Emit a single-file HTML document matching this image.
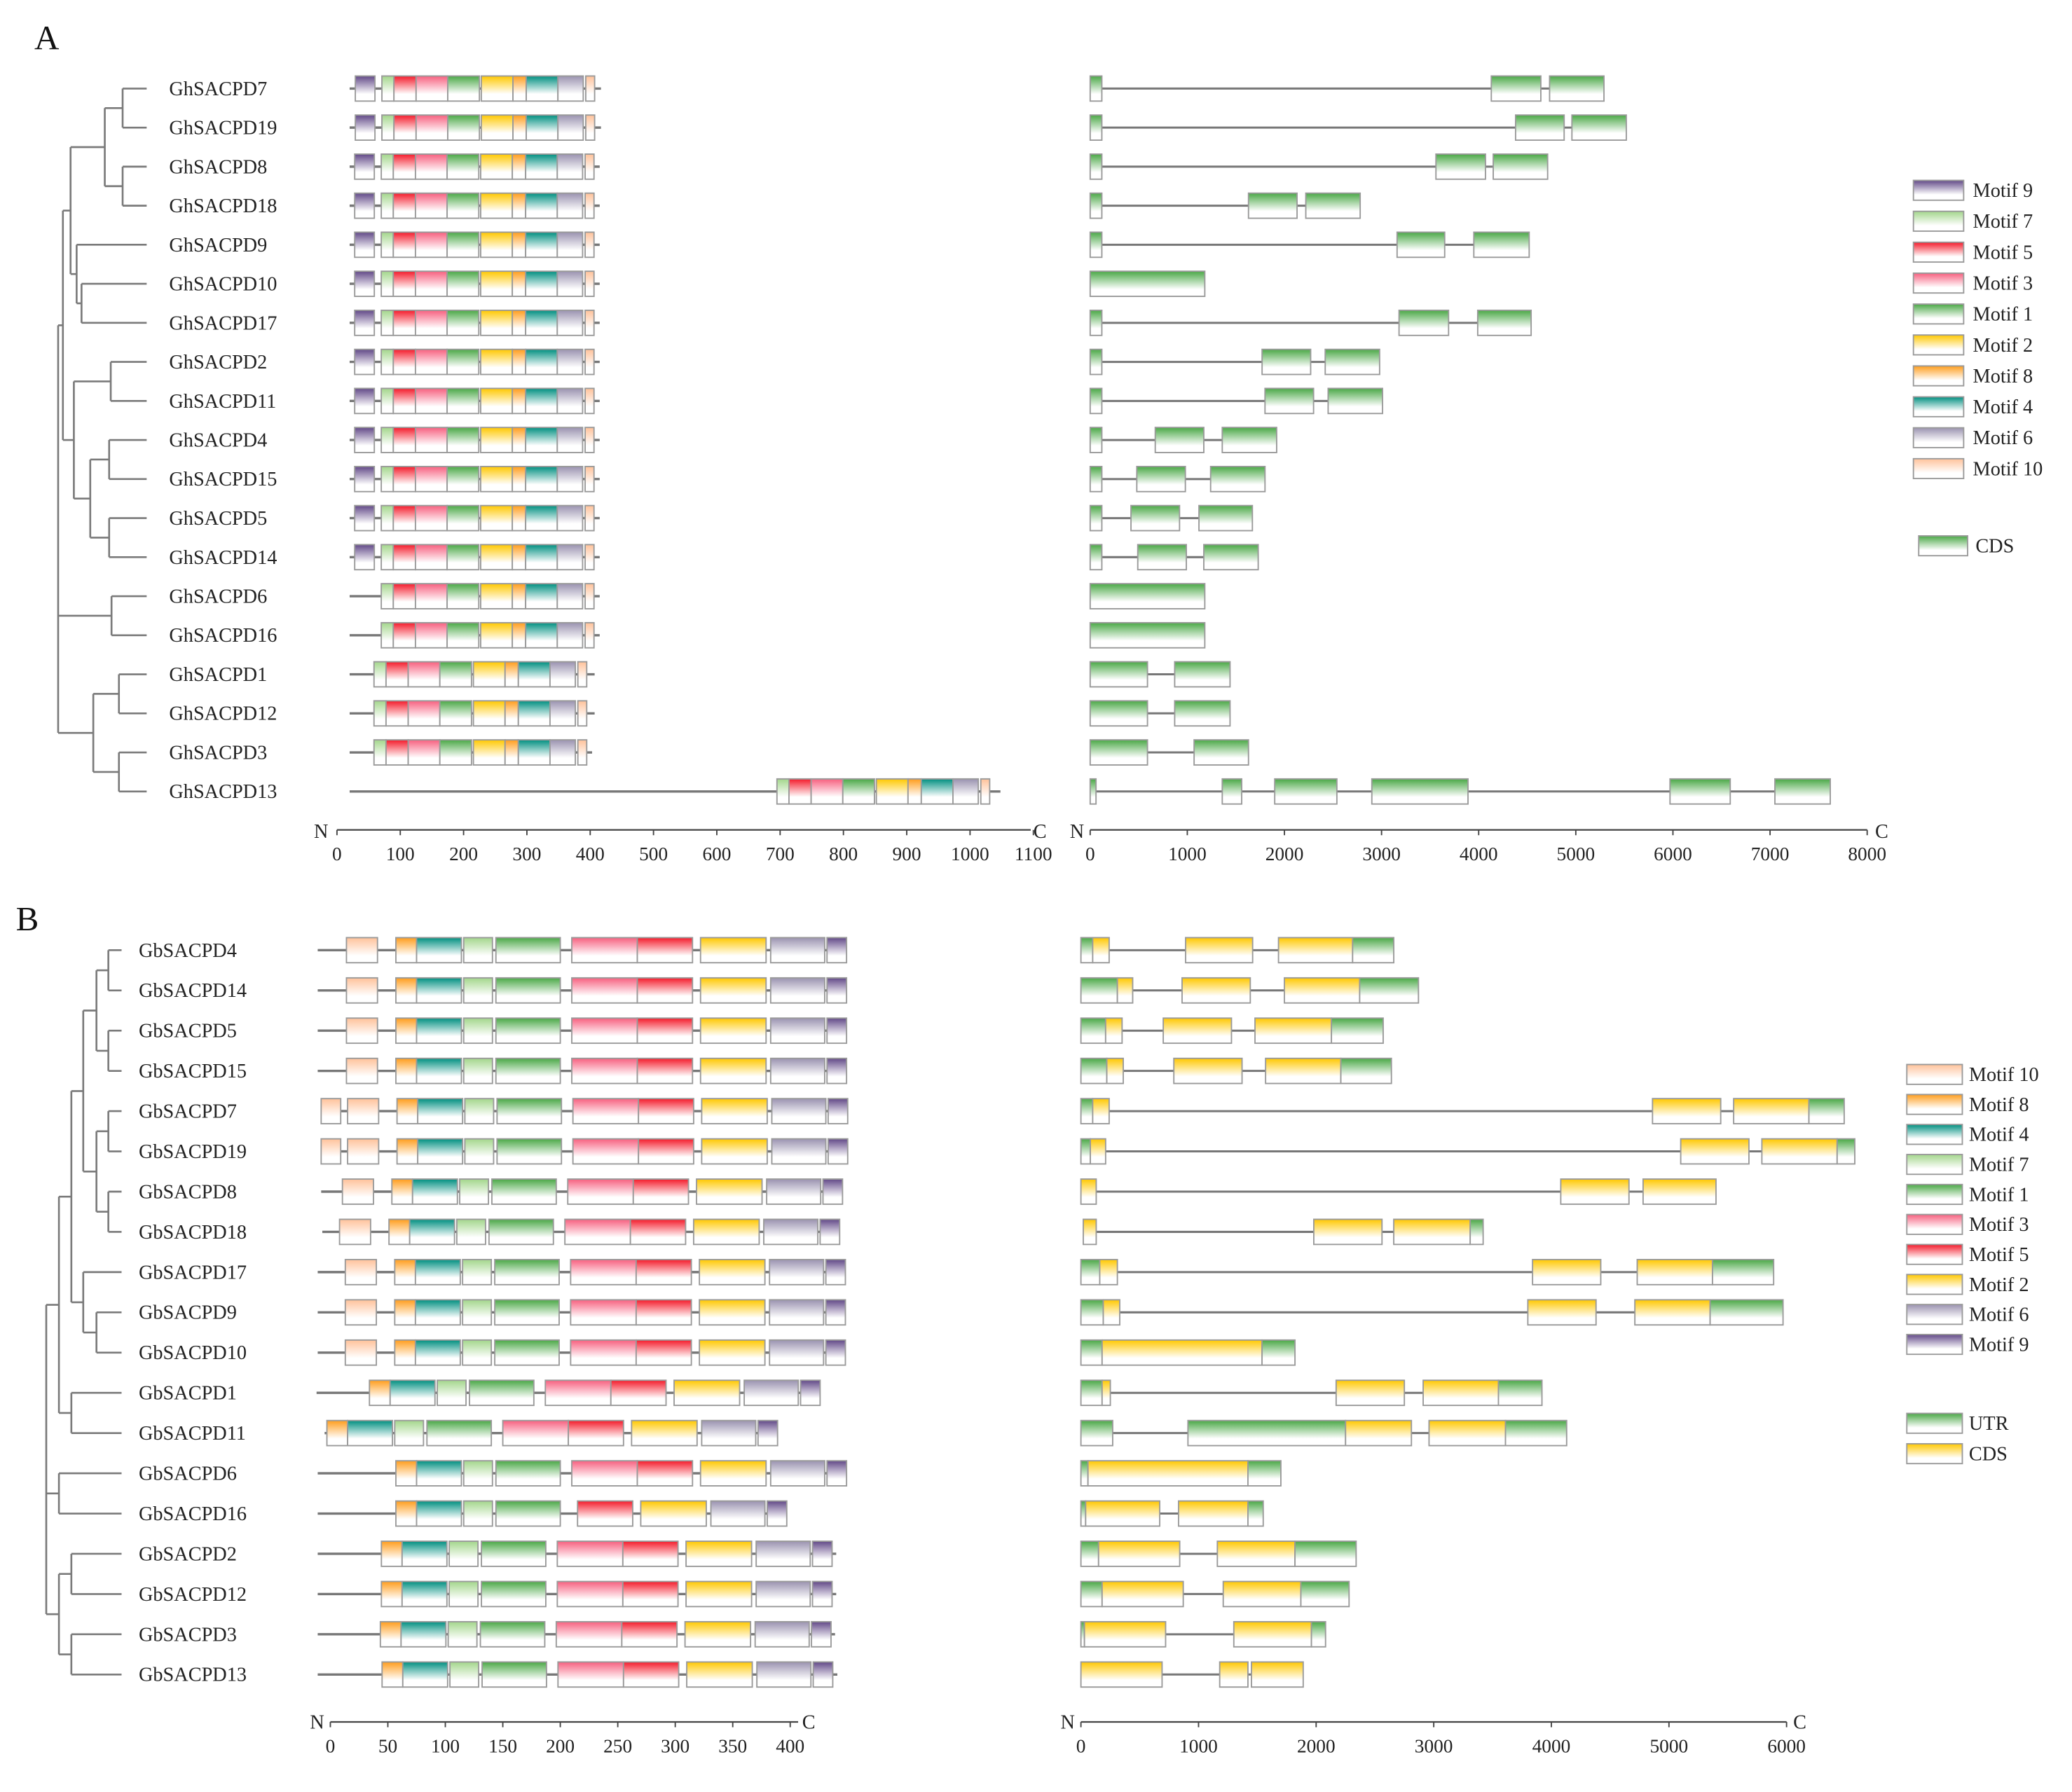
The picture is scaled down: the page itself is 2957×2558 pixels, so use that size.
<!DOCTYPE html>
<html><head><meta charset="utf-8">
<style>
html,body{margin:0;padding:0;background:#fff;}
svg{display:block;font-family:"Liberation Serif",serif;}
</style></head>
<body>
<svg id="fig" xmlns="http://www.w3.org/2000/svg" width="2957" height="2558" viewBox="0 0 1568 1356" preserveAspectRatio="none">
<defs id="defs"></defs>
<rect x="0" y="0" width="1568" height="1356" fill="#fff"/>
<text x="26" y="37" font-size="26" fill="#111">A</text>
<text x="12" y="704" font-size="26" fill="#111">B</text>
</svg>
<script>
// ---------------- DATA ----------------
const motifColors = {m1:'#4aa846',m2:'#ffc800',m3:'#f7607f',m4:'#008f80',m5:'#f41a2a',m6:'#9a92b0',m7:'#a3d68b',m8:'#ff9d1c',m9:'#614887',m10:'#ffc29a',cds:'#4aa846',utr:'#4aa846',cdsY:'#ffc800'};
const motifTplA = [['m9',29,60],['m7',71,90],['m5',90,125],['m3',125,175],['m1',175,225],['m2',228,278],['m8',278,299],['m4',299,349],['m6',349,389],['m10',393,407]];
const genesA = ['GhSACPD7','GhSACPD19','GhSACPD8','GhSACPD18','GhSACPD9','GhSACPD10','GhSACPD17','GhSACPD2','GhSACPD11','GhSACPD4','GhSACPD15','GhSACPD5','GhSACPD14','GhSACPD6','GhSACPD16','GhSACPD1','GhSACPD12','GhSACPD3','GhSACPD13'];
const protEndA = [417,417,415,415,415,415,415,415,415,415,415,415,415,415,415,407,407,403,1048];
const motifShiftA = [0,0,-1,-1,-1,-1,-1,-1,-1,-1,-1,-1,-1,-1,-1,-12.5,-12.5,-12.5,624];
const hasM9A = [1,1,1,1,1,1,1,1,1,1,1,1,1,0,0,0,0,0,0];
const exonsA = [
 [[0,120],[4130,4640],[4730,5290]],
 [[0,120],[4380,4880],[4960,5520]],
 [[0,120],[3560,4070],[4150,4710]],
 [[0,120],[1630,2130],[2220,2780]],
 [[0,120],[3160,3650],[3950,4520]],
 [[0,1180]],
 [[0,120],[3180,3690],[3990,4540]],
 [[0,120],[1770,2270],[2420,2980]],
 [[0,120],[1800,2300],[2450,3010]],
 [[0,120],[670,1170],[1360,1920]],
 [[0,120],[480,980],[1240,1800]],
 [[0,120],[420,920],[1120,1670]],
 [[0,120],[490,990],[1170,1730]],
 [[0,1180]],
 [[0,1180]],
 [[0,590],[870,1440]],
 [[0,590],[870,1440]],
 [[0,590],[1070,1630]],
 [[0,60],[1360,1560],[1900,2540],[2900,3890],[5970,6590],[7050,7620]]
];
const ticksMotifA = [0,100,200,300,400,500,600,700,800,900,1000,1100];
const ticksGeneA = [0,1000,2000,3000,4000,5000,6000,7000,8000];
const legendA = ['m9','m7','m5','m3','m1','m2','m8','m4','m6','m10'];
const legendLabelsA = ['Motif 9','Motif 7','Motif 5','Motif 3','Motif 1','Motif 2','Motif 8','Motif 4','Motif 6','Motif 10'];

const motifTplB = [['m10',14,41],['m8',57,75],['m4',75,114],['m7',116,141],['m1',144,200],['m3',210,267],['m5',267,315],['m2',322,379],['m6',383,430],['m9',432,449]];
const genesB = ['GbSACPD4','GbSACPD14','GbSACPD5','GbSACPD15','GbSACPD7','GbSACPD19','GbSACPD8','GbSACPD18','GbSACPD17','GbSACPD9','GbSACPD10','GbSACPD1','GbSACPD11','GbSACPD6','GbSACPD16','GbSACPD2','GbSACPD12','GbSACPD3','GbSACPD13'];
const protStartB = [-11,-11,-11,-11,-8,-8,-8,-7,-11,-11,-11,-12,-5,-11,-11,-11,-11,-11,-11];
const protEndB = [449,449,449,449,450,450,445,443,448,448,448,426,389,449,395,440,440,439,441];
const motifShiftB = [0,0,0,0,1,1,-3.5,-6,-1,-1,-1,-23,-60,0,0,-12.6,-12.6,-13.5,-12];
const omitB = [[],[],[],[],[],[],[],[],[],[],[],['m10'],['m10'],['m10'],['m10','m3'],['m10'],['m10'],['m10'],['m10']];
const extraB = [[],[],[],[],[['m10',-8,9]],[['m10',-8,9]],[],[],[],[],[],[],[],[],[],[],[],[],[]];
const lateShiftB = [0,0,0,0,0,0,0,0,0,0,0,0,0,0,-52,0,0,0,0];
const exonsB = [
 [[0,100,'u'],[100,240,'c'],[890,1460,'c'],[1680,2310,'c'],[2310,2660,'u']],
 [[0,310,'u'],[310,440,'c'],[860,1440,'c'],[1730,2370,'c'],[2370,2870,'u']],
 [[0,210,'u'],[210,350,'c'],[700,1280,'c'],[1480,2130,'c'],[2130,2570,'u']],
 [[0,220,'u'],[220,360,'c'],[790,1370,'c'],[1570,2210,'c'],[2210,2640,'u']],
 [[0,100,'u'],[100,240,'c'],[4860,5440,'c'],[5550,6190,'c'],[6190,6490,'u']],
 [[0,80,'u'],[80,210,'c'],[5100,5680,'c'],[5790,6430,'c'],[6430,6580,'u']],
 [[0,130,'c'],[4080,4660,'c'],[4780,5400,'c']],
 [[20,130,'c'],[1980,2560,'c'],[2660,3310,'c'],[3310,3420,'u']],
 [[0,160,'u'],[160,310,'c'],[3840,4420,'c'],[4730,5370,'c'],[5370,5890,'u']],
 [[0,190,'u'],[190,330,'c'],[3800,4380,'c'],[4710,5350,'c'],[5350,5970,'u']],
 [[0,180,'u'],[180,1540,'c'],[1540,1820,'u']],
 [[0,180,'u'],[180,250,'c'],[2170,2750,'c'],[2910,3550,'c'],[3550,3920,'u']],
 [[0,270,'u'],[910,2250,'u'],[2250,2810,'c'],[2960,3610,'c'],[3610,4130,'u']],
 [[0,60,'u'],[60,1420,'c'],[1420,1700,'u']],
 [[0,40,'u'],[40,670,'c'],[830,1420,'c'],[1420,1550,'u']],
 [[0,150,'u'],[150,840,'c'],[1160,1820,'c'],[1820,2340,'u']],
 [[0,180,'u'],[180,870,'c'],[1210,1870,'c'],[1870,2280,'u']],
 [[0,30,'u'],[30,720,'c'],[1300,1960,'c'],[1960,2080,'u']],
 [[0,690,'c'],[1180,1420,'c'],[1450,1890,'c']]
];
const ticksMotifB = [0,50,100,150,200,250,300,350,400];
const ticksGeneB = [0,1000,2000,3000,4000,5000,6000];
const legendB = ['m10','m8','m4','m7','m1','m3','m5','m2','m6','m9'];
const legendLabelsB = ['Motif 10','Motif 8','Motif 4','Motif 7','Motif 1','Motif 3','Motif 5','Motif 2','Motif 6','Motif 9'];

// ---------------- LAYOUT ----------------
const svg = document.getElementById('fig');
const defs = document.getElementById('defs');
const NS = 'http://www.w3.org/2000/svg';
function mk(tag, attrs, parent){const e=document.createElementNS(NS,tag);for(const k in attrs)e.setAttribute(k,attrs[k]);(parent||svg).appendChild(e);return e;}
for(const k in motifColors){
  const g=mk('linearGradient',{id:'g_'+k,x1:0,y1:0,x2:0,y2:1},defs);
  mk('stop',{offset:'0','stop-color':motifColors[k]},g);
  mk('stop',{offset:'0.72','stop-color':'#ffffff'},g);
  mk('stop',{offset:'1','stop-color':'#ffffff'},g);
}
const rowYA = i => 67 + i*29.55;
const rowYB = i => 719 + i*30.45;
const xMotifA = v => 255 + v*527/1100;
const xGeneA = v => 825 + v*588/8000;
const xMotifB = v => 250 + v*348/400;
const xGeneB = v => 818 + v*534/6000;
const BH = 19;
function box(x1,x2,y,key,name,h){
  const r=mk('rect',{x:x1,y:y-(h||BH)/2,width:Math.max(1,x2-x1),height:h||BH,fill:'url(#g_'+key+')',stroke:'#9a9a9a','stroke-width':1});
  
  
  return r;
}
function line(x1,y1,x2,y2,name,w,c){
  const l=mk('line',{x1,y1,x2,y2,stroke:c||'#777','stroke-width':w||1.6});
  
  
  return l;
}
function text(x,y,s,size,name,anchor){
  const t=mk('text',{x,y,'font-size':size,fill:'#222','text-anchor':anchor||'start'});
  t.textContent=s;
  
  
  return t;
}

genesA.forEach((g,i)=>{
  const y=rowYA(i);
  text(128,y+5,g,15,'gene-label-'+g);
  line(xMotifA(20),y,xMotifA(protEndA[i]),y,'protein-line-'+g,1.8);
  motifTplA.forEach(([m,s,e])=>{
    if(m==='m9'&&!hasM9A[i])return;
    box(xMotifA(s+motifShiftA[i]),xMotifA(e+motifShiftA[i]),y,m,'motif-'+m+'-'+g);
  });
  const ex=exonsA[i];
  line(xGeneA(ex[0][0]),y,xGeneA(ex[ex.length-1][1]),y,'intron-line-'+g,1.6);
  ex.forEach(([s,e],j)=>box(xGeneA(s),xGeneA(e),y,'cds','cds-'+g+'-'+j));
});
function axis(x0,x1,y,ticks,fx,prefix){
  line(x0,y,x1,y,prefix+'-axis-line',1.2,'#444');
  ticks.forEach(t=>{line(fx(t),y,fx(t),y+4,prefix+'-tick-'+t,1,'#444');text(fx(t),y+23,String(t),14.5,prefix+'-tick-label-'+t,'middle');});
}
axis(255,780,628,ticksMotifA,xMotifA,'motif-a');
text(243,634,'N',15,'motif-a-n-label','middle');text(787,634,'C',15,'motif-a-c-label','middle');
axis(825,1413,628,ticksGeneA,xGeneA,'gene-a');
text(815,634,'N',15,'gene-a-n-label','middle');text(1424,634,'C',15,'gene-a-c-label','middle');
legendA.forEach((m,i)=>{const y=144+i*23.4;box(1448,1486,y,m,'legend-a-swatch-'+m,15);text(1493,y+5,legendLabelsA[i],15,'legend-a-label-'+m);});
box(1452,1489,413,'cds','legend-a-swatch-cds',15);text(1495,418,'CDS',15,'legend-a-label-cds');

genesB.forEach((g,i)=>{
  const y=rowYB(i);
  text(105,y+5,g,15,'gene-label-'+g);
  line(xMotifB(protStartB[i]),y,xMotifB(protEndB[i]),y,'protein-line-'+g,1.8);
  let passed=false;
  motifTplB.forEach(([m,s,e])=>{
    const late=passed?lateShiftB[i]:0;
    if(m==='m1')passed=true;
    if(omitB[i].includes(m))return;
    box(xMotifB(s+motifShiftB[i]+late),xMotifB(e+motifShiftB[i]+late),y,m,'motif-'+m+'-'+g);
  });
  extraB[i].forEach(([m,s,e])=>box(xMotifB(s),xMotifB(e),y,m,'motif-extra-'+m+'-'+g));
  const ex=exonsB[i];
  line(xGeneB(ex[0][0]),y,xGeneB(ex[ex.length-1][1]),y,'intron-line-'+g,1.6);
  ex.forEach(([s,e,t],j)=>box(xGeneB(s),xGeneB(e),y,t==='u'?'utr':'cdsY',(t==='u'?'utr-':'cds-')+g+'-'+j));
});
axis(250,604,1303,ticksMotifB,xMotifB,'motif-b');
text(240,1308,'N',15,'motif-b-n-label','middle');text(612,1308,'C',15,'motif-b-c-label','middle');
axis(818,1352,1303,ticksGeneB,xGeneB,'gene-b');
text(808,1308,'N',15,'gene-b-n-label','middle');text(1362,1308,'C',15,'gene-b-c-label','middle');
legendB.forEach((m,i)=>{const y=813+i*22.7;box(1443,1485,y,m,'legend-b-swatch-'+m,15);text(1490,y+5,legendLabelsB[i],15,'legend-b-label-'+m);});
box(1443,1485,1077,'utr','legend-b-swatch-utr',15);text(1490,1082,'UTR',15,'legend-b-label-utr');
box(1443,1485,1100,'cdsY','legend-b-swatch-cds',15);text(1490,1105,'CDS',15,'legend-b-label-cds');

function drawTree(node,rowY,leafX,prefix){
  if(typeof node==='number') return {x:leafX,y:rowY(node)};
  const kids=node.c.map(k=>drawTree(k,rowY,leafX,prefix));
  const ys=kids.map(k=>k.y);
  const y=(Math.min(...ys)+Math.max(...ys))/2;
  line(node.x,Math.min(...ys),node.x,Math.max(...ys),prefix+'-branch-v',1.4,'#7a7a7a');
  kids.forEach(k=>line(node.x,k.y,k.x,k.y,prefix+'-branch-h',1.4,'#7a7a7a'));
  return {x:node.x,y};
}
const treeA={x:44,c:[
  {x:47.6,c:[
    {x:53.4,c:[{x:79.3,c:[{x:92.8,c:[0,1]},{x:92.8,c:[2,3]}]},{x:58,c:[4,{x:61.7,c:[5,6]}]}]},
    {x:55.9,c:[{x:83.8,c:[7,8]},{x:68.3,c:[{x:82.6,c:[9,10]},{x:82.6,c:[11,12]}]}]}
  ]},
  {x:84.4,c:[13,14]},
  {x:70.6,c:[{x:90,c:[15,16]},{x:90,c:[17,18]}]}
]};
drawTree(treeA,rowYA,111,'tree-a');
const treeB={x:35,c:[
  {x:44.6,c:[
    {x:54,c:[
      {x:63,c:[{x:73,c:[{x:82,c:[0,1]},{x:82,c:[2,3]}]},{x:73,c:[{x:82,c:[4,5]},{x:82,c:[6,7]}]}]},
      {x:63,c:[8,{x:73,c:[9,10]}]}
    ]},
    {x:54,c:[11,12]}
  ]},
  {x:44.6,c:[13,14]},
  {x:44.6,c:[{x:54,c:[15,16]},{x:54,c:[17,18]}]}
]};
drawTree(treeB,rowYB,92,'tree-b');
</script>
</body></html>
